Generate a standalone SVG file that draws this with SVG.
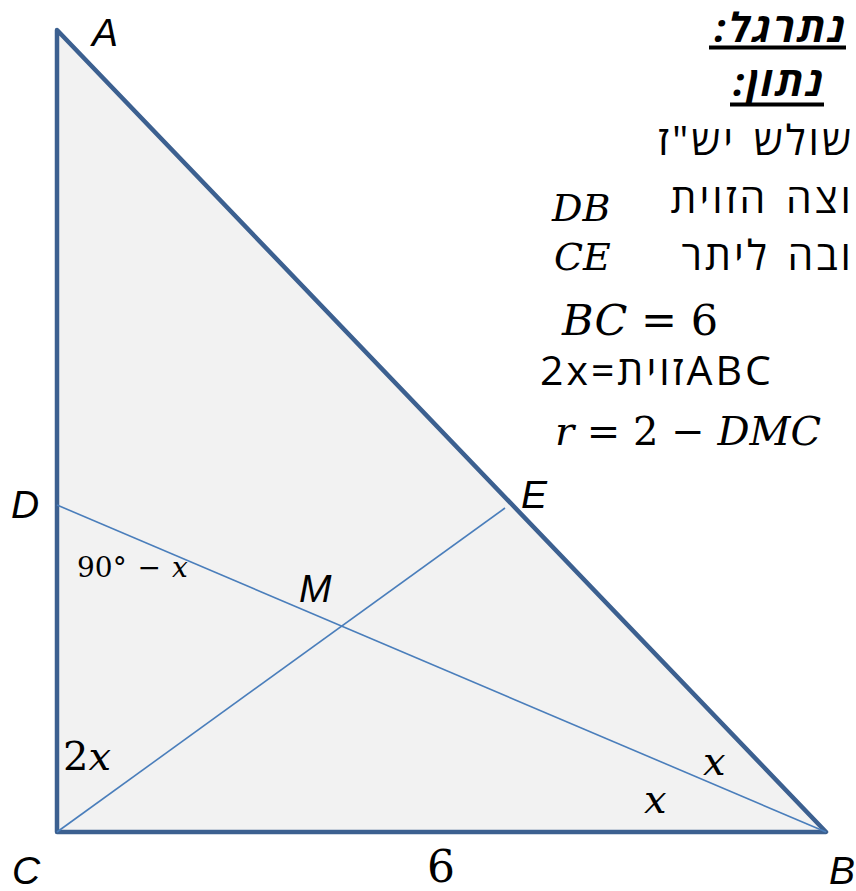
<svg xmlns="http://www.w3.org/2000/svg" width="856" height="891" viewBox="0 0 856 891">
<style>
.tri{fill:#f2f2f2;stroke:#3c6090;stroke-width:4.5;stroke-linejoin:round}
.seg{stroke:#4a7ebb;stroke-width:1.6;fill:none}
.lbl{font-family:"Liberation Sans","DejaVu Sans",sans-serif;font-style:italic;font-size:39px;fill:#000}
.math{font-family:"DejaVu Serif","Liberation Serif",serif;fill:#000}
.heb{font-family:"Open Sans","DejaVu Sans",sans-serif;font-size:41px;letter-spacing:3px;word-spacing:4px;fill:#000}
.hh{font-family:"Open Sans","DejaVu Sans",sans-serif;font-size:40px;font-weight:bold;font-style:italic;letter-spacing:3px;fill:#000}
</style>
<rect width="856" height="891" fill="#ffffff"/>
<g id="triangle">
<polygon class="tri" points="57,30 826,832 57,832"/>
</g>
<g id="connectors">
<line class="seg" x1="57" y1="505" x2="826" y2="832"/>
<line class="seg" x1="57" y1="832" x2="505" y2="508"/>
</g>
<g id="vertex-labels">
<text class="lbl" x="92" y="46">A</text>
<text class="lbl" x="11" y="518">D</text>
<text class="lbl" x="521" y="508">E</text>
<text class="lbl" x="299" y="602">M</text>
<text class="lbl" x="12" y="884">C</text>
<text class="lbl" x="829" y="884">B</text>
</g>
<g id="angle-labels">
<text class="math" x="77" y="577" font-size="28" word-spacing="2">90° − <tspan font-style="italic">x</tspan></text>
<text class="math" x="63" y="770" font-size="40">2<tspan font-style="italic">x</tspan></text>
<text class="math" x="703" y="775" font-size="40" font-style="italic">x</text>
<text class="math" x="644" y="813" font-size="40" font-style="italic">x</text>
<text class="math" x="427" y="882" font-size="44">6</text>
</g>
<g id="given">
<text class="hh" x="848" y="42" text-anchor="end">נתרגל:&#x200F;</text>
<line x1="709" y1="47.5" x2="846" y2="47.5" stroke="#000" stroke-width="4"/>
<text class="hh" x="826" y="96" text-anchor="end">נתון:&#x200F;</text>
<line x1="730" y1="104.5" x2="824" y2="104.5" stroke="#000" stroke-width="4"/>
<text class="heb" x="854" y="155" text-anchor="end">שולש יש"ז</text>
<text class="heb" x="854" y="213" text-anchor="end">וצה הזוית</text>
<text class="math" x="552" y="221" font-size="38" font-style="italic">DB</text>
<text class="heb" x="854" y="270" text-anchor="end">ובה ליתר</text>
<text class="math" x="554" y="270" font-size="38" font-style="italic">CE</text>
<text class="math" x="562" y="335" font-size="43"><tspan font-style="italic">BC</tspan> = 6</text>
<text class="heb" x="540" y="385" font-size="42" letter-spacing="2">2x=זויתABC</text>
<text class="math" x="555" y="445" font-size="40"><tspan font-style="italic">r</tspan> = 2 − <tspan font-style="italic">DMC</tspan></text>
</g>
</svg>
